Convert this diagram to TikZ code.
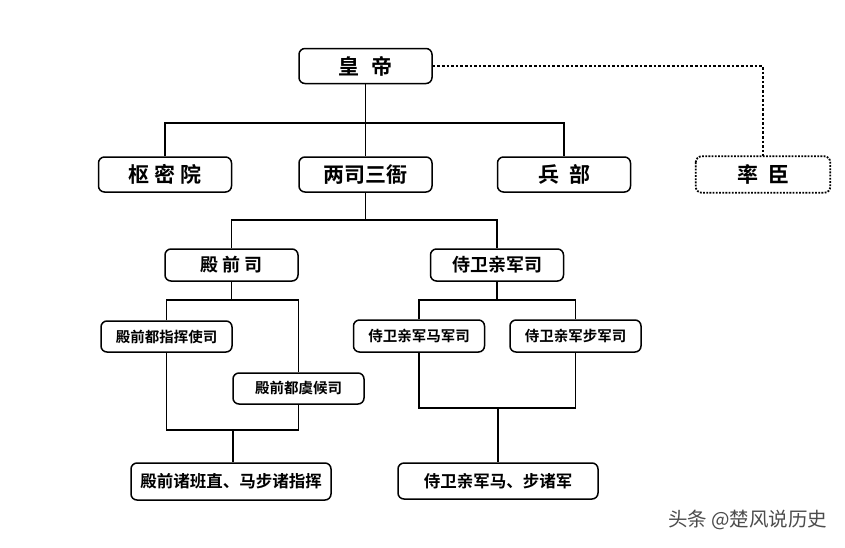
\documentclass[tikz,border=0pt]{standalone}
\usepackage{fontspec}
\newfontfamily\cjk{Noto Sans CJK SC}[BoldFont={Noto Sans CJK SC Bold}]
\begin{document}
\begin{tikzpicture}[x=1pt,y=-1pt,
  box/.style={draw, line width=1.5pt, rounded corners=6pt, inner sep=0pt, font=\cjk\bfseries, fill=white},
  big/.style={box, minimum width=133pt, minimum height=35pt, font=\cjk\bfseries\fontsize{21}{23}\selectfont},
  mid/.style={box, minimum width=133pt, minimum height=32pt, font=\cjk\bfseries\fontsize{18}{20}\selectfont},
  small/.style={box, minimum width=131pt, minimum height=31pt, font=\cjk\bfseries\fontsize{14.5}{16}\selectfont},
  wide/.style={box, minimum width=200pt, minimum height=37pt, font=\cjk\bfseries\fontsize{16.5}{18}\selectfont},
  link/.style={line width=1.8pt},
  dotlink/.style={line width=2.8pt, dash pattern=on 2.6pt off 2pt}
]
\useasboundingbox (0,0) rectangle (845,547);
\fill[white] (0,0) rectangle (845,547);
% nodes
\node[big] (hd) at (365.5,66) {皇\hspace{12pt}帝};
\node[big] (smy) at (165,174.5) {枢\hspace{5pt}密\hspace{5pt}院};
\node[big] (lss) at (365.5,174.5) {两司三衙};
\node[big] (bb) at (564,174.5) {兵\hspace{10pt}部};
\node[big, draw=none, fill=none] (sc) at (763,174.5) {率\hspace{10pt}臣};
\draw[line width=1.8pt, dash pattern=on 1.8pt off 1.4pt, rounded corners=6pt] (sc.north west) rectangle (sc.south east);
\node[mid] (dqs) at (231.5,265) {殿\hspace{4pt}前\hspace{4pt}司};
\node[mid] (swq) at (497,265) {侍卫亲军司};
\node[small] (dzh) at (166.5,336.5) {殿前都指挥使司};
\node[small] (dyh) at (298.5,388.5) {殿前都虞候司};
\node[wide] (dzb) at (231,481.5) {殿前诸班直、马步诸指挥};
\node[small, minimum height=32pt] (mjs) at (419,336) {侍卫亲军马军司};
\node[small, minimum height=32pt] (bjs) at (575.5,336) {侍卫亲军步军司};
\node[wide, minimum height=36pt] (mbz) at (498,481) {侍卫亲军马、步诸军};
% coordinates
\coordinate (j1) at (365.5,123);
\coordinate (j2) at (365.5,220);
\coordinate (j3) at (231.5,300);
\coordinate (j4) at (497,300);
\coordinate (j5) at (233,430);
\coordinate (j6) at (498,408);
% connectors
\draw[link] (hd.south) -- (lss.north);
\draw[link] (smy.north) |- (j1) -| (bb.north);
\draw[link] (lss.south) -- (j2);
\draw[link] (dqs.north) |- (j2) -| (swq.north);
\draw[link] (dqs.south) -- (j3);
\draw[link] (dzh.north) |- (j3) -| (dyh.north);
\draw[link] (dzh.south) |- (j5) -| (dyh.south);
\draw[link] (j5) -- (j5 |- dzb.north);
\draw[link] (swq.south) -- (j4);
\draw[link] (mjs.north) |- (j4) -| (bjs.north);
\draw[link] (mjs.south) |- (j6) -| (bjs.south);
\draw[link] (j6) -- (j6 |- mbz.north);
\draw[dotlink] (hd.east) -| (sc.north);
% watermark
\node[font=\cjk\fontsize{19.5}{22}\selectfont, text=black!70, anchor=east] (wm) at (831,520) {头条 @楚风说历史};
\end{tikzpicture}
\end{document}
